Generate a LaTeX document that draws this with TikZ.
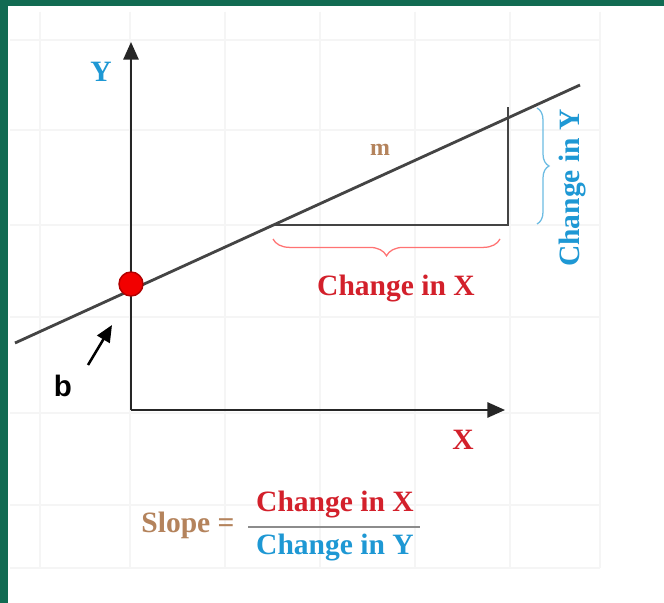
\documentclass[tikz,border=0pt]{standalone}
\usepackage{fontspec}
\setmainfont{Liberation Serif}
\newfontfamily\labelsans{Liberation Sans}
\usetikzlibrary{arrows.meta,decorations.pathreplacing}

\definecolor{framegreen}{HTML}{116B52}
\definecolor{chxred}{HTML}{D3202B}
\definecolor{chyblue}{HTML}{1E98D4}
\definecolor{slopebrown}{HTML}{B4835C}
\definecolor{linegray}{HTML}{444444}

\begin{document}
\begin{tikzpicture}[
	x=0.025cm,
	y=-0.025cm,
	font=\bfseries\fontsize{21}{24}\selectfont,
	axis/.style={line width=1.5pt, black!85, -{Triangle[length=0.44cm,width=0.38cm]}},
	bracex/.style={decorate, decoration={brace, amplitude=0.42cm}, line width=0.9pt, red!55},
	bracey/.style={decorate, decoration={brace, amplitude=0.3cm}, line width=0.9pt, chyblue!65}
	]
	% --- page and faint grid ---
	\useasboundingbox (0,0) rectangle (664,603);
	\fill[white] (0,0) rectangle (664,603);
	\foreach \gx in {40,130,225,320,415,510,600} {
		\draw[black!4, line width=0.8pt] (\gx,12) -- (\gx,568);
	}
	\foreach \gy in {40,130,225,317,413,505,568} {
		\draw[black!4, line width=0.8pt] (10,\gy) -- (600,\gy);
	}
	\fill[framegreen] (0,0) rectangle (664,6);
	\fill[framegreen] (0,0) rectangle (8,603);

	% --- axes ---
	\coordinate (origin) at (131,410);
	\coordinate (ytip) at (131,42);
	\coordinate (xtip) at (505,410);
	\draw[axis] (origin) -- (ytip);
	\draw[axis] (origin) -- (xtip);
	\node[chyblue] (ylab) at (101,72) {Y};
	\node[chxred] (xlab) at (463,440) {X};

	% --- the line y = mx + b ---
	\coordinate (lstart) at (15,343);
	\coordinate (lend) at (580,85);
	\draw[linegray, line width=2pt] (lstart) -- (lend);
	\node[circle, fill=red!95!black, draw=red!70!black, line width=1pt,
		minimum size=0.6cm, inner sep=0pt] (yint) at (131,284) {};

	% intercept label
	\node[font=\labelsans\bfseries\fontsize{21}{24}\selectfont] (blab) at (63,386) {b};
	\coordinate (btail) at (88,365);
	\coordinate (bhead) at (112,325);
	\draw[line width=1.8pt, -{Triangle[length=0.42cm,width=0.36cm]}] (btail) -- (bhead);

	% --- rise and run triangle ---
	\coordinate (runL) at (272,225);
	\coordinate (runR) at (508,225);
	\coordinate (riseT) at (508,107);
	\draw[linegray, line width=1.8pt] (runL) -- (runR) -- (riseT);
	\node[slopebrown, font=\bfseries\fontsize{17}{20}\selectfont] (mlab) at (380,150) {m};

	% braces
	\coordinate (bxR) at (500,239);
	\coordinate (bxL) at (273,239);
	\draw[bracex] (bxR) -- (bxL);
	\node[chxred] (chx) at (396,289) {Change in X};
	\coordinate (byT) at (537,108);
	\coordinate (byB) at (537,224);
	\draw[bracey] (byT) -- (byB);
	\node[chyblue, rotate=90] (chy) at (573,188) {Change in Y};

	% --- slope formula ---
	\node[slopebrown] (slope) at (188,525) {Slope =};
	\node[chxred] (num) at (335,505) {Change in X};
	\node[chyblue] (den) at (335,548) {Change in Y};
	\coordinate (barL) at (248,527);
	\coordinate (barR) at (420,527);
	\draw[black!45, line width=1.2pt] (barL) -- (barR);
\end{tikzpicture}
\end{document}
